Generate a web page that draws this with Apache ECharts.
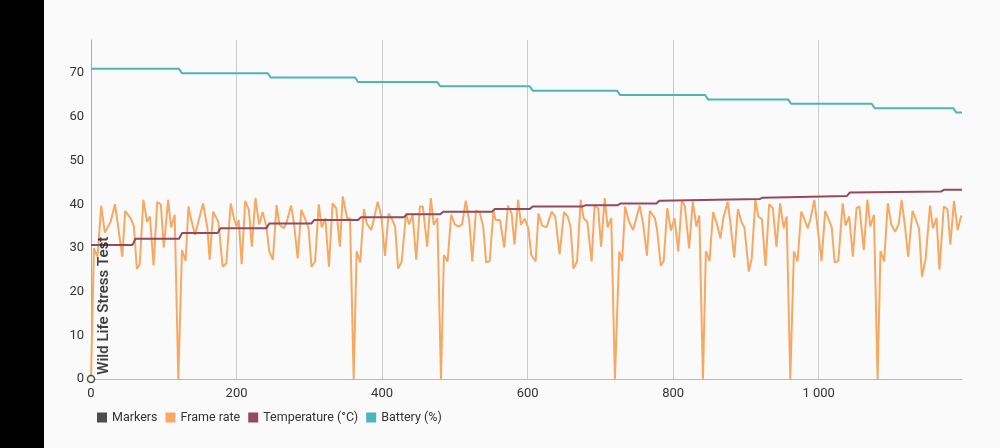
<!DOCTYPE html>
<html>
<head>
<meta charset="utf-8">
<script src="https://cdn.jsdelivr.net/npm/echarts@6/dist/echarts.min.js"></script>
<style>
  html, body { margin: 0; padding: 0; background: #000; }
  #chart { position: absolute; left: 44px; top: 0; width: 956px; height: 448px; background: #fafafa; }
</style>
</head>
<body>
<div id="chart"></div>
<script>
// frame rate samples (time, fps)
const fpsTime = [0,4,9,14,19,27,33,43,47,55,59,63,67,72,77,81,86,91,96,100,106,110,115,120,125,130,134,138,143,154,160,163,168,175,181,186,192,197,
  200,203,207,212,217,221,226,231,236,241,245,250,255,259,265,269,275,279,284,289,294,299,303,308,313,317,322,327,332,337,342,346,352,356,361,365,370,375,379,385,389,394,399,
  404,409,413,418,422,427,433,437,442,447,452,456,462,467,471,476,481,485,490,495,500,505,510,515,520,524,529,534,539,543,548,553,556,562,568,573,578,582,587,591,596,
  601,605,611,615,620,626,633,638,644,650,655,659,663,668,673,677,682,688,692,697,701,706,710,715,720,726,730,734,739,745,754,759,764,768,775,778,783,787,792,797,
  802,807,812,816,822,827,832,836,841,845,850,855,860,865,869,875,879,884,889,894,898,904,908,913,917,922,927,932,937,942,947,952,956,961,966,971,976,980,985,989,994,999,
  1004,1009,1013,1018,1022,1027,1033,1037,1042,1047,1052,1056,1062,1067,1071,1076,1081,1085,1090,1095,1100,1105,1110,1114,1119,1123,1129,1133,1138,1142,1147,1153,1157,1162,1166,1172,1177,1181,1186,1191,1196];
const fpsValue = [0,29.9,28.0,39.7,33.5,36.0,40.0,28.0,38.5,36.6,34.9,25.2,26.3,41.0,36.0,37.2,26.0,40.5,40.0,30.1,41.0,34.7,37.6,0,29.5,27.0,39.5,36.2,33.0,40.2,34.5,27.3,38.3,35.9,25.7,26.5,40.2,36.4,
  34.9,36.4,26.3,40.8,38.7,30.3,41.4,35.4,38.2,34.9,29.2,27.3,39.8,35.3,34.5,36.0,39.7,35.6,27.6,38.7,36.8,34.5,25.7,26.9,40.0,34.7,36.8,25.7,40.2,39.1,30.3,41.8,36.8,36.8,0,29.2,26.7,38.9,35.6,34.1,36.8,40.6,37.2,
  28.2,37.9,36.8,34.9,25.3,26.9,37.9,35.4,37.6,27.3,39.5,39.5,30.3,41.4,35.3,36.8,0,28.4,26.9,37.6,35.4,34.9,35.4,40.8,36.0,26.9,38.5,38.2,34.9,26.7,27.0,38.5,36.4,36.4,30.1,39.7,37.9,30.8,41.0,35.3,36.7,
  34.5,28.4,26.9,37.9,35.1,34.7,38.3,37.2,28.5,38.2,37.2,34.9,25.3,26.9,41.0,36.8,36.0,26.9,39.5,39.1,30.3,41.4,34.7,36.8,0,29.2,27.0,39.5,36.2,34.1,39.7,35.3,28.2,38.5,36.8,34.1,25.9,27.0,39.1,34.0,
  36.8,29.2,40.8,39.7,29.9,40.6,34.9,37.4,0,29.3,27.0,38.2,35.6,32.2,36.8,40.6,35.3,27.8,38.9,35.9,34.7,24.6,27.6,41.0,37.2,36.6,25.9,40.0,39.1,30.3,40.2,34.5,37.2,0,29.2,26.9,38.3,36.8,34.5,36.8,41.0,34.0,
  27.0,38.5,36.8,34.7,26.7,27.0,40.2,35.1,37.2,28.0,39.1,39.5,29.5,41.0,34.9,37.6,0,29.3,26.9,40.2,35.3,33.7,35.4,41.0,34.5,28.0,38.5,36.8,34.4,23.4,27.5,39.7,34.5,36.9,25.0,39.5,38.9,30.8,40.8,34.1,37.4];

// temperature (°C)
const tempTime = [0,57,61,121,125,174,178,241,245,303,307,367,371,430,434,480,484,551,555,603,607,676,680,724,728,777,781,919,923,1039,1043,1168,1172,1197];
const tempValue = [30.7,30.7,32.1,32.1,33.4,33.4,34.5,34.5,35.6,35.6,36.4,36.4,37.0,37.0,37.7,37.7,38.3,38.3,38.9,38.9,39.5,39.5,39.8,39.8,40.2,40.2,40.8,41.2,41.5,41.9,42.7,42.9,43.3,43.3];

// battery (%)
const batteryTime = [0,121,125,243,247,363,367,476,480,603,607,723,727,844,848,958,962,1073,1077,1185,1189,1197];
const batteryValue = [71,71,70,70,69,69,68,68,67,67,66,66,65,65,64,64,63,63,62,62,61,61];

// markers
const markerTime = [0];
const markerValue = [0];
const markerNames = ['Wild Life Stress Test'];

const seriesNames = ['Markers', 'Frame rate', 'Temperature (°C)', 'Battery (%)'];
const seriesColors = ['#222222', '#f7a862', '#944a5e', '#4db5ba'];

const zip = (xs, ys) => xs.map((x, i) => [x, ys[i]]);
const fmt = v => String(v).replace(/\B(?=(\d{3})+(?!\d))/g, ' ');

const lineSeries = (i, xs, ys) => ({
  name: seriesNames[i], type: 'line', data: zip(xs, ys),
  showSymbol: false,
  itemStyle: { color: seriesColors[i] },
  lineStyle: { width: 2, color: seriesColors[i] }
});

const chart = echarts.init(document.getElementById('chart'));
chart.setOption({
  animation: false,
  textStyle: { fontFamily: 'Roboto' },
  grid: { left: 47, right: 38, top: 40, bottom: 69 },
  legend: {
    left: 48, top: 406,
    icon: 'rect', itemWidth: 10, itemHeight: 10, itemGap: 8,
    textStyle: { fontSize: 12.5, color: '#333', fontFamily: 'Roboto' },
    data: [
      { name: seriesNames[0], itemStyle: { color: seriesColors[0], borderWidth: 0 } },
      seriesNames[1], seriesNames[2], seriesNames[3]
    ]
  },
  xAxis: {
    type: 'value', min: 0, max: 1197, interval: 200,
    axisLine: { lineStyle: { color: '#bbb', width: 1 } },
    axisTick: { show: false },
    axisLabel: { color: '#333', fontSize: 13, margin: 8, showMaxLabel: false, formatter: fmt },
    splitLine: { show: true, showMaxLine: false, lineStyle: { color: '#ccc', width: 1 } }
  },
  yAxis: {
    type: 'value', min: 0, max: 77.6, interval: 10,
    axisLine: { show: true, lineStyle: { color: '#aaa', width: 1 } },
    axisTick: { show: false },
    axisLabel: { color: '#333', fontSize: 13, margin: 7, showMaxLabel: false },
    splitLine: { show: false }
  },
  series: [
    {
      name: seriesNames[0], type: 'scatter', clip: false, z: 5,
      data: zip(markerTime, markerValue).map((d, i) => ({ value: d, name: markerNames[i] })),
      symbol: 'circle', symbolSize: 7,
      itemStyle: { color: '#fff', borderColor: seriesColors[0], borderWidth: 1.5 },
      label: {
        show: true, formatter: p => p.name, rotate: 90,
        position: [10, 0], align: 'left', verticalAlign: 'top',
        fontSize: 15, fontWeight: 600, color: '#111'
      }
    },
    lineSeries(1, fpsTime, fpsValue),
    lineSeries(2, tempTime, tempValue),
    lineSeries(3, batteryTime, batteryValue)
  ]
});
</script>
</body>
</html>
